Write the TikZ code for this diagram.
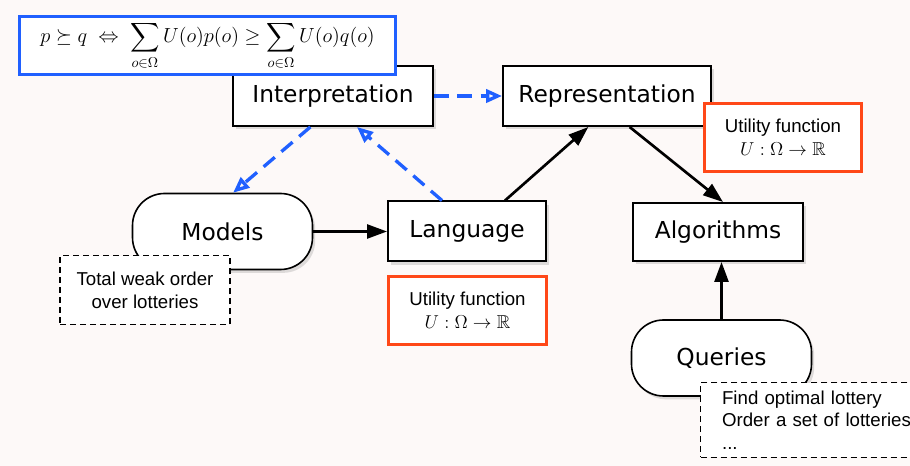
\RequirePackage{fix-cm}
\documentclass[tikz,border=0pt]{standalone}
\usepackage{amssymb}
\usepackage[no-math]{fontspec}
\newfontfamily\stagefont{DejaVu Sans}
\newfontfamily\notefont{Liberation Sans}
\usetikzlibrary{arrows.meta,shadows}
\definecolor{paper}{RGB}{253,249,248}
\definecolor{eqblue}{RGB}{32,96,255}
\definecolor{utilorange}{RGB}{255,72,24}
\tikzset{
    every picture/.style={line width=0.75pt},
    stage/.style={draw,line width=1.5pt,fill=white,minimum height=45pt,
        font=\stagefont\fontsize{17.5}{20}\selectfont,
        drop shadow={shadow xshift=2pt,shadow yshift=-2.5pt,opacity=0.25}},
    pill/.style={stage,line width=1.2pt,rounded corners=24pt,
        minimum width=135pt,minimum height=57pt},
    util/.style={draw=utilorange,line width=2.25pt,fill=white,align=center,
        minimum width=118pt,minimum height=51pt,
        font=\notefont\fontsize{14}{17.5}\selectfont},
    note/.style={draw,line width=1.1pt,dash pattern=on 4.5pt off 3pt,fill=white,
        font=\notefont\fontsize{14}{17}\selectfont},
    flow/.style={-{Triangle[length=15pt,width=10.5pt]},line width=2pt},
    link/.style={-{Triangle[open,length=12pt,width=10pt]},eqblue,line width=2.5pt,
        dash pattern=on 11pt off 6.5pt},
}

\begin{document}
\begin{tikzpicture}[x=0.75pt,y=-0.75pt]
    % Page
    \fill[paper] (0,0) rectangle (910,466);
    \useasboundingbox (0,0) rectangle (910,466);

    % Stages
    \node[stage,minimum width=150pt] (interp) at (333,96) {Interpretation};
    \node[stage,minimum width=156pt] (repr) at (607,96) {Representation};
    \node[stage,minimum width=118.5pt] (lang) at (467,231.5) {Language};
    \node[stage,minimum width=127.5pt,minimum height=43.5pt] (alg) at (718,232) {Algorithms};
    \node[pill] (models) at (222.5,231.5) {Models};
    \node[pill] (queries) at (721.5,358) {Queries};

    % Connectors
    \draw[flow] (models) -- (lang);
    \draw[flow] ([xshift=28.5pt]lang.north) -- ([xshift=-14pt]repr.south);
    \draw[flow] ([xshift=17pt]repr.south) -- ([xshift=3.75pt]alg.north);
    \draw[flow] (queries.north) -- (queries.north |- alg.south);
    \draw[link] (interp) -- (repr);
    \draw[link] ([xshift=-17pt]interp.south) -- ([xshift=8pt]models.north);
    \draw[link] ([xshift=-18.75pt]lang.north) -- ([xshift=18pt]interp.south);

    % Notes
    \node[util] (utilrepr) at (783,137.5) {Utility function\\$U:\Omega\to\mathbb{R}$};
    \node[util] (utillang) at (467.5,310.5) {Utility function\\$U:\Omega\to\mathbb{R}$};
    \node[note,align=center,minimum width=127.5pt,minimum height=51.5pt] (modelnote)
        at (145,290) {Total weak order\\over lotteries};
    \node[note,anchor=north west,align=left,text width=175pt,inner xsep=16pt,
        minimum height=56pt] (querynote) at (700,382)
        {Find optimal lottery\\Order a set of lotteries\\...};

    % Expected utility
    \node[draw=eqblue,line width=2.25pt,fill=white,minimum width=282pt,minimum height=44pt,
        font=\fontsize{15.3}{18}\selectfont] (eu) at (207.5,45.5)
        {$\displaystyle p\succeq q \;\Leftrightarrow\; \sum_{o\in\Omega}U(o)p(o)\geq\sum_{o\in\Omega}U(o)q(o)$};
\end{tikzpicture}
\end{document}
